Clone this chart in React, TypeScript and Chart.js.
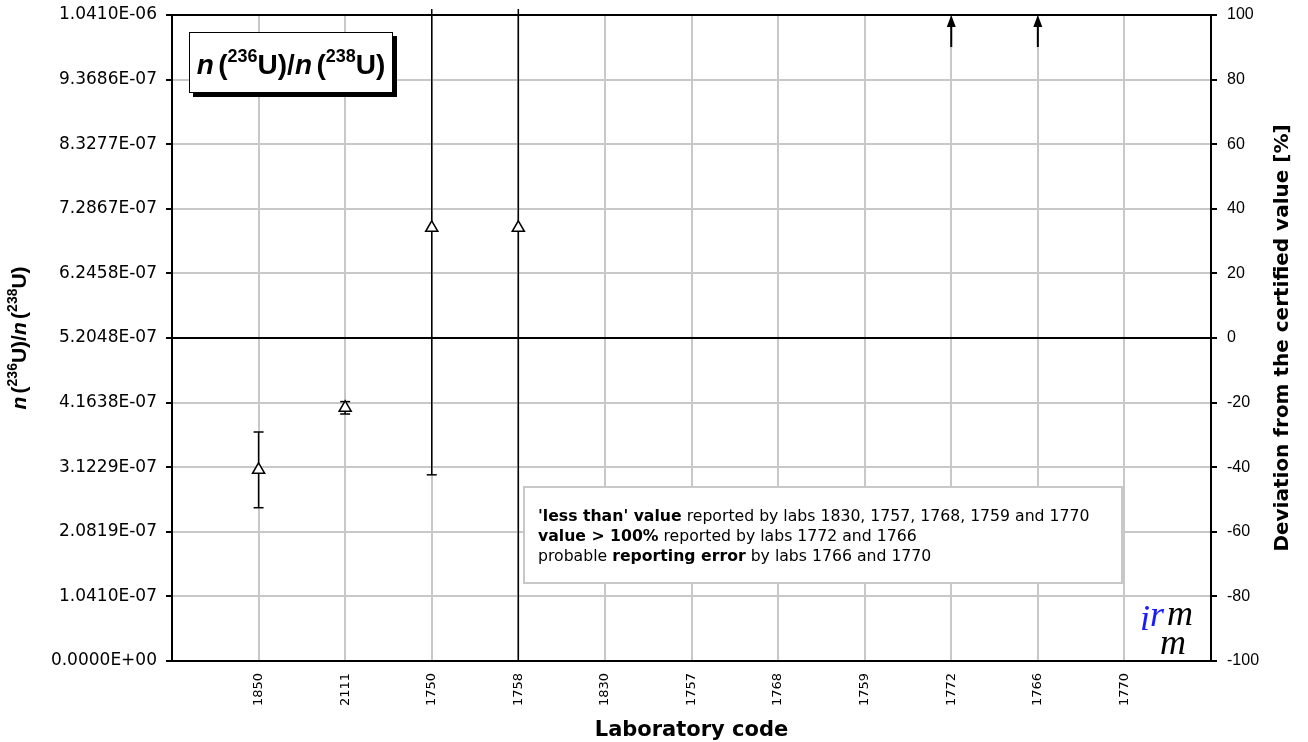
import React, { useEffect, useRef } from 'react';
import { Chart, registerables } from 'chart.js';

Chart.register(...registerables);

// ---------- data ----------
const labCodes = ['1850', '2111', '1750', '1758', '1830', '1757', '1768', '1759', '1772', '1766', '1770'];
const labValues: (number | null)[] = [3.08e-7, 4.08e-7, 6.98e-7, 6.98e-7, null, null, null, null, null, null, null];
const labUncertainties: (number | null)[] = [6.1e-8, 1.0e-8, 3.98e-7, 7.0e-7, null, null, null, null, null, null, null];
const labsAbove100 = ['1772', '1766'];
const certifiedValue = 5.2048e-7;
const leftTickLabels = [
  '0.0000E+00', '1.0410E-07', '2.0819E-07', '3.1229E-07', '4.1638E-07', '5.2048E-07',
  '6.2458E-07', '7.2867E-07', '8.3277E-07', '9.3686E-07', '1.0410E-06',
];
const rightTickLabels = ['-100', '-80', '-60', '-40', '-20', '0', '20', '40', '60', '80', '100'];
const noteLines: { text: string; bold: boolean }[][] = [
  [{ text: "'less than' value", bold: true }, { text: ' reported by labs 1830, 1757, 1768, 1759 and 1770', bold: false }],
  [{ text: 'value > 100%', bold: true }, { text: ' reported by labs 1772 and 1766', bold: false }],
  [{ text: 'probable ', bold: false }, { text: 'reporting error', bold: true }, { text: ' by labs 1766 and 1770', bold: false }],
];
const xTitle = 'Laboratory code';
const rightTitle = 'Deviation from the certified value [%]';

type Seg = { text: string; italic?: boolean; sup?: boolean };
const ratioTitle: Seg[] = [
  { text: 'n', italic: true }, { text: '(' }, { text: '236', sup: true }, { text: 'U)/' },
  { text: 'n', italic: true }, { text: '(' }, { text: '238', sup: true }, { text: 'U)' },
];

const SANS = "'Liberation Sans', Arial, sans-serif";
const VERD = "'DejaVu Sans', Verdana, sans-serif";
const SERIF = "'Liberation Serif', 'Times New Roman', serif";

function drawRich(ctx: CanvasRenderingContext2D, segs: Seg[], cx: number, baseline: number, size: number, supSize: number) {
  const fontFor = (s: Seg) => `${s.italic ? 'italic ' : ''}bold ${s.sup ? supSize : size}px ${SANS}`;
  let total = 0;
  const widths = segs.map((s) => {
    ctx.font = fontFor(s);
    const w = ctx.measureText(s.text).width + (s.italic ? size * 0.16 : 0);
    total += w;
    return w;
  });
  let x = cx - total / 2;
  ctx.textAlign = 'left';
  ctx.textBaseline = 'alphabetic';
  ctx.fillStyle = '#000';
  segs.forEach((s, i) => {
    ctx.font = fontFor(s);
    ctx.fillText(s.text, x, s.sup ? baseline - size * 0.42 : baseline);
    x += widths[i];
  });
}

const decorPlugin = {
  id: 'decor',
  beforeDatasetsDraw(chart: any) {
    const { ctx, chartArea: a, scales } = chart;
    const xs = scales.x;
    const ys = scales.y;
    ctx.save();
    // notes box
    ctx.fillStyle = '#fff';
    ctx.fillRect(524, 487, 598, 96);
    ctx.strokeStyle = '#c8c8c8';
    ctx.lineWidth = 2;
    ctx.strokeRect(524, 487, 598, 96);
    noteLines.forEach((line, li) => {
      let x = 538;
      const y = 517 + li * 20;
      line.forEach((seg) => {
        ctx.font = `${seg.bold ? 'bold ' : ''}15.7px ${VERD}`;
        ctx.fillStyle = '#000';
        ctx.textBaseline = 'middle';
        ctx.textAlign = 'left';
        ctx.fillText(seg.text, x, y);
        x += ctx.measureText(seg.text).width;
      });
    });
    // certified value line
    const cy = ys.getPixelForValue(certifiedValue);
    ctx.strokeStyle = '#000';
    ctx.lineWidth = 2;
    ctx.beginPath();
    ctx.moveTo(a.left, cy);
    ctx.lineTo(a.right, cy);
    ctx.stroke();
    // frame
    ctx.strokeRect(a.left, a.top, a.right - a.left, a.bottom - a.top);
    // error bars
    ctx.lineWidth = 1.5;
    labCodes.forEach((code, i) => {
      const v = labValues[i];
      const u = labUncertainties[i];
      if (v == null || u == null) return;
      const px = xs.getPixelForValue(i + 1);
      const yTopRaw = ys.getPixelForValue(v + u);
      const yBotRaw = ys.getPixelForValue(v - u);
      const yTop = Math.max(yTopRaw, a.top - 6);
      const yBot = Math.min(yBotRaw, a.bottom);
      ctx.beginPath();
      ctx.moveTo(px, yTop);
      ctx.lineTo(px, yBot);
      ctx.stroke();
      if (yTopRaw >= a.top) {
        ctx.beginPath();
        ctx.moveTo(px - 5, yTopRaw);
        ctx.lineTo(px + 5, yTopRaw);
        ctx.stroke();
      }
      if (yBotRaw <= a.bottom) {
        ctx.beginPath();
        ctx.moveTo(px - 5, yBotRaw);
        ctx.lineTo(px + 5, yBotRaw);
        ctx.stroke();
      }
    });
    // arrows for > 100 %
    labsAbove100.forEach((code) => {
      const i = labCodes.indexOf(code);
      const px = xs.getPixelForValue(i + 1);
      const yTip = ys.getPixelForValue(ys.max);
      ctx.lineWidth = 2;
      ctx.beginPath();
      ctx.moveTo(px, yTip + 32);
      ctx.lineTo(px, yTip + 8);
      ctx.stroke();
      ctx.fillStyle = '#000';
      ctx.beginPath();
      ctx.moveTo(px, yTip);
      ctx.lineTo(px - 4.5, yTip + 12);
      ctx.lineTo(px + 4.5, yTip + 12);
      ctx.closePath();
      ctx.fill();
    });
    ctx.restore();
  },
  afterDraw(chart: any) {
    const { ctx, chartArea: a } = chart;
    ctx.save();
    // title box with shadow
    ctx.fillStyle = '#000';
    ctx.fillRect(193, 36, 204, 61);
    ctx.fillStyle = '#fff';
    ctx.fillRect(189, 32, 204, 61);
    ctx.strokeStyle = '#000';
    ctx.lineWidth = 1;
    ctx.strokeRect(189.5, 32.5, 203, 60);
    drawRich(ctx, ratioTitle, 291, 74, 28, 18);
    // left axis title
    ctx.save();
    ctx.translate(26, (a.top + a.bottom) / 2);
    ctx.rotate(-Math.PI / 2);
    drawRich(ctx, ratioTitle, 0, 0, 21, 14);
    ctx.restore();
    // right axis title
    ctx.save();
    ctx.translate(1288, (a.top + a.bottom) / 2);
    ctx.rotate(-Math.PI / 2);
    ctx.font = `bold 20px ${VERD}`;
    ctx.fillStyle = '#000';
    ctx.textAlign = 'center';
    ctx.textBaseline = 'alphabetic';
    ctx.fillText(rightTitle, 0, 0);
    ctx.restore();
    // x title
    ctx.font = `bold 21px ${VERD}`;
    ctx.fillStyle = '#000';
    ctx.textAlign = 'center';
    ctx.textBaseline = 'middle';
    ctx.fillText(xTitle, (a.left + a.right) / 2, 731);
    // irmm logo
    ctx.textAlign = 'left';
    ctx.textBaseline = 'alphabetic';
    ctx.font = `italic 36px ${SERIF}`;
    ctx.fillStyle = '#1a1aff';
    ctx.fillText('i', 1140, 630);
    ctx.fillText('r', 1150, 626);
    ctx.fillStyle = '#000';
    ctx.fillText('m', 1167, 625);
    ctx.fillText('m', 1160, 654);
    ctx.restore();
  },
};

export default function App() {
  const ref = useRef<HTMLCanvasElement | null>(null);
  useEffect(() => {
    if (!ref.current) return;
    const points = labCodes
      .map((c, i) => (labValues[i] == null ? null : { x: i + 1, y: labValues[i] as number }))
      .filter((p) => p !== null) as { x: number; y: number }[];
    const yMax = certifiedValue * 2;
    const chart = new Chart(ref.current, {
      type: 'scatter',
      data: {
        datasets: [
          {
            label: 'n(236U)/n(238U)',
            data: points,
            pointStyle: 'triangle',
            pointRadius: 7,
            backgroundColor: '#fff',
            borderColor: '#000',
            borderWidth: 1.5,
          },
          {
            label: 'deviation',
            data: [],
            yAxisID: 'y2',
          },
        ],
      },
      options: {
        responsive: false,
        devicePixelRatio: 1,
        animation: false,
        layout: { padding: { top: 15, left: 0, right: 0, bottom: 0 } },
        plugins: { legend: { display: false }, tooltip: { enabled: false } },
        scales: {
          x: {
            type: 'linear',
            min: 0,
            max: labCodes.length + 1,
            afterBuildTicks: (s: any) => {
              s.ticks = Array.from({ length: labCodes.length + 2 }, (_, i) => ({ value: i }));
            },
            afterFit: (s: any) => { s.height = 81; s.paddingLeft = 0; s.paddingRight = 0; },
            grid: { color: '#c8c8c8', lineWidth: 2, drawTicks: false },
            border: { color: '#000', width: 2 },
            ticks: {
              autoSkip: false,
              maxRotation: 90,
              minRotation: 90,
              padding: 12,
              color: '#000',
              font: { family: VERD, size: 13 },
              callback: (v: any) => (v >= 1 && v <= labCodes.length ? labCodes[v - 1] : ''),
            },
          },
          y: {
            type: 'linear',
            position: 'left',
            min: 0,
            max: yMax,
            afterBuildTicks: (s: any) => {
              s.ticks = leftTickLabels.map((_, i) => ({ value: (yMax * i) / (leftTickLabels.length - 1) }));
            },
            afterFit: (s: any) => { s.width = 172; s.paddingTop = 0; s.paddingBottom = 0; },
            grid: { color: '#c8c8c8', lineWidth: 2, tickColor: '#000', tickLength: 6, tickWidth: 2 },
            border: { color: '#000', width: 2 },
            ticks: {
              padding: 9,
              color: '#000',
              font: { family: VERD, size: 17 },
              callback: (_v: any, i: number) => leftTickLabels[i],
            },
          },
          y2: {
            type: 'linear',
            position: 'right',
            min: -100,
            max: 100,
            afterBuildTicks: (s: any) => {
              s.ticks = rightTickLabels.map((t) => ({ value: Number(t) }));
            },
            afterFit: (s: any) => { s.width = 97; s.paddingTop = 0; s.paddingBottom = 0; },
            grid: { drawOnChartArea: false, color: '#000', tickLength: 6, lineWidth: 2 },
            border: { color: '#000', width: 2 },
            ticks: {
              padding: 10,
              color: '#000',
              font: { family: SANS, size: 16 },
              callback: (_v: any, i: number) => rightTickLabels[i],
            },
          },
        },
      },
      plugins: [decorPlugin],
    } as any);
    return () => chart.destroy();
  }, []);
  return (
    <div style={{ position: 'absolute', left: 0, top: 0, width: 1308, height: 742, background: '#fff' }}>
      <canvas ref={ref} width={1308} height={742} style={{ display: 'block' }} />
    </div>
  );
}
